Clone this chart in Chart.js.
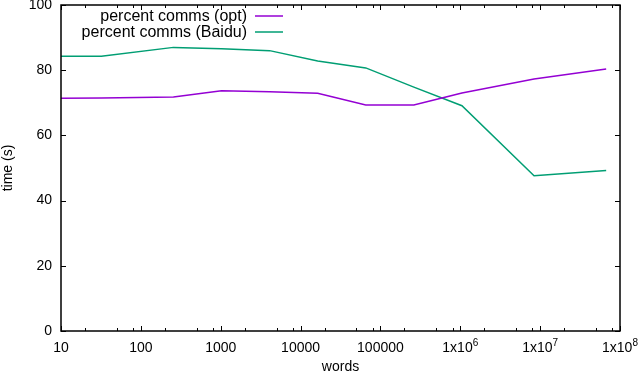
<!DOCTYPE html>
<html>
<head>
<meta charset="utf-8">
<script src="https://cdn.jsdelivr.net/npm/chart.js@4.4.0/dist/chart.umd.min.js"></script>
<style>
  html, body { margin: 0; padding: 0; background: #ffffff; }
  #wrap { width: 640px; height: 373px; position: relative; }
</style>
</head>
<body>
<div id="wrap"><canvas id="c" width="640" height="373"></canvas></div>
<script>
// ---- data ----
const words = [10, 32, 256, 1024, 4096, 16384, 65536, 262144, 1048576, 8388608, 67108864];
const percentOpt = [71.4, 71.5, 71.8, 73.7, 73.4, 72.9, 69.3, 69.3, 73.0, 77.3, 80.4];
const percentBaidu = [84.3, 84.3, 87.0, 86.6, 86.0, 82.8, 80.7, 74.8, 69.1, 47.6, 49.2];
const seriesNames = ['percent comms (opt)', 'percent comms (Baidu)'];
const xMajorTicks = [10, 100, 1000, 10000, 100000, 1000000, 10000000, 100000000];
const xTickBase = ['10', '100', '1000', '10000', '100000', '1x10', '1x10', '1x10'];
const xTickExp = ['', '', '', '', '', '6', '7', '8'];
const xMinorFactors = [2, 5, 8];
const yTicks = [0, 20, 40, 60, 80, 100];
const xTitle = 'words';
const yTitle = 'time (s)';

const FONT = '"Liberation Sans", Arial, Helvetica, sans-serif';
const colors = ['#9400d3', '#009e73'];

function pts(vals) { return words.map((w, i) => ({ x: w, y: vals[i] })); }

const frameTicks = {
  id: 'frameTicks',
  afterDatasetsDraw(chart) {
    const ctx = chart.ctx, a = chart.chartArea;
    const xs = chart.scales.x, ys = chart.scales.y;
    ctx.save();
    ctx.strokeStyle = '#000';
    ctx.lineWidth = 1.5;
    ctx.strokeRect(a.left, a.top, a.right - a.left, a.bottom - a.top);
    ctx.lineWidth = 1;
    ctx.beginPath();
    xs.ticks.forEach(t => {
      const px = Math.round(xs.getPixelForValue(t.value)) + 0.5;
      const len = t.major ? 5 : 3;
      ctx.moveTo(px, a.bottom); ctx.lineTo(px, a.bottom - len);
      ctx.moveTo(px, a.top); ctx.lineTo(px, a.top + len);
    });
    ys.ticks.forEach(t => {
      const py = Math.round(ys.getPixelForValue(t.value)) + 0.5;
      ctx.moveTo(a.left, py); ctx.lineTo(a.left + 5, py);
      ctx.moveTo(a.right, py); ctx.lineTo(a.right - 5, py);
    });
    ctx.stroke();
    // x tick labels (with superscript exponents)
    ctx.fillStyle = '#000';
    ctx.textBaseline = 'alphabetic';
    ctx.textAlign = 'left';
    xMajorTicks.forEach((v, i) => {
      const px = xs.getPixelForValue(v);
      ctx.font = '14px ' + FONT;
      const wb = ctx.measureText(xTickBase[i]).width;
      ctx.font = '10px ' + FONT;
      const we = xTickExp[i] ? ctx.measureText(xTickExp[i]).width : 0;
      const x0 = px - (wb + we) / 2;
      ctx.font = '14px ' + FONT;
      ctx.fillText(xTickBase[i], x0, 352);
      if (xTickExp[i]) {
        ctx.font = '10px ' + FONT;
        ctx.fillText(xTickExp[i], x0 + wb, 346);
      }
    });
    ctx.restore();
  },
  afterDraw(chart) {
    const ctx = chart.ctx;
    ctx.save();
    ctx.font = '16px ' + FONT;
    ctx.textAlign = 'right';
    ctx.textBaseline = 'middle';
    chart.data.datasets.forEach((ds, i) => {
      const y = 16 + i * 16;
      ctx.fillStyle = '#000';
      ctx.fillText(ds.label, 247, y + 0.5);
      ctx.strokeStyle = ds.borderColor;
      ctx.lineWidth = 1.5;
      ctx.beginPath();
      ctx.moveTo(255, y); ctx.lineTo(283, y);
      ctx.stroke();
    });
    ctx.restore();
  }
};

new Chart(document.getElementById('c'), {
  type: 'line',
  data: {
    datasets: [
      { label: seriesNames[0], data: pts(percentOpt), borderColor: colors[0], borderWidth: 1.5, pointRadius: 0, fill: false, tension: 0 },
      { label: seriesNames[1], data: pts(percentBaidu), borderColor: colors[1], borderWidth: 1.5, pointRadius: 0, fill: false, tension: 0 }
    ]
  },
  options: {
    responsive: false,
    animation: false,
    devicePixelRatio: 1,
    layout: { padding: { top: 5, right: 20, left: 0, bottom: 0 } },
    plugins: { legend: { display: false }, tooltip: { enabled: false } },
    scales: {
      x: {
        type: 'logarithmic',
        min: 10, max: 100000000,
        afterBuildTicks(scale) {
          const t = [];
          xMajorTicks.forEach((m, i) => {
            t.push({ value: m, major: true });
            if (i < xMajorTicks.length - 1) xMinorFactors.forEach(f => t.push({ value: m * f, major: false }));
          });
          scale.ticks = t;
        },
        afterFit(scale) { scale.height = 42; scale.paddingLeft = 0; scale.paddingRight = 0; },
        grid: { display: false },
        border: { display: false },
        ticks: { display: false, autoSkip: false, maxRotation: 0, minRotation: 0 },
        title: { display: true, text: xTitle, color: '#000', font: { family: FONT, size: 14 }, padding: { top: 0, bottom: -3 } }
      },
      y: {
        min: 0, max: 100,
        afterBuildTicks(scale) { scale.ticks = yTicks.map(v => ({ value: v })); },
        afterFit(scale) { scale.width = 61; scale.paddingTop = 0; scale.paddingBottom = 0; },
        grid: { display: false },
        border: { display: false },
        ticks: { padding: 1, color: '#000', font: { family: FONT, size: 14 } },
        title: { display: true, text: yTitle, color: '#000', font: { family: FONT, size: 14 }, padding: { top: 0, bottom: 0 } }
      }
    }
  },
  plugins: [frameTicks]
});
</script>
</body>
</html>
